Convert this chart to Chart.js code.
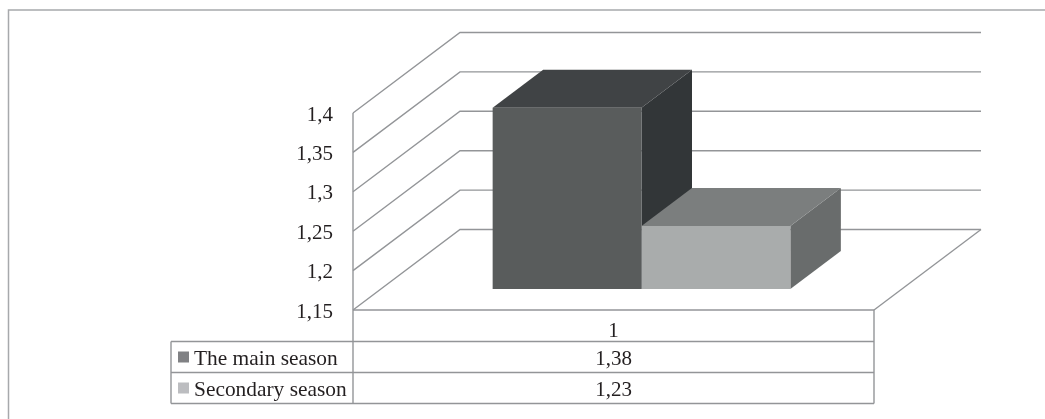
<!DOCTYPE html>
<html>
<head>
<meta charset="utf-8">
<style>
    html, body { margin: 0; padding: 0; background: #fff; overflow: hidden; }
    canvas { display: block; }
</style>
<script src="https://cdn.jsdelivr.net/npm/chart.js@4/dist/chart.umd.min.js"></script>
</head>
<body>
<canvas id="myChart" width="1045" height="419"></canvas>
<script>
const categories = ['1'];
const seriesNames = ['The main season', 'Secondary season'];
const mainSeason = [1.38];
const secondarySeason = [1.23];
const tickValues = [1.15, 1.2, 1.25, 1.3, 1.35, 1.4];

const frontColors = ['#595c5c', '#a9acac'];
const topColors = ['#404345', '#7b7e7e'];
const sideColors = ['#323638', '#696c6c'];
const swatchColors = ['#808184', '#bcbdc0'];

const lineColor = '#939598';
const textColor = '#231f20';
const fontFamily = '"Liberation Serif", "Times New Roman", serif';

// oblique projection of the floor and of the bars standing on it
const floorDx = 107;
const floorDy = 80.5;
const barShiftDx = 28;
const barShiftDy = 21;
const barDepthDx = 50.5;
const barDepthDy = 38;

const rowLines = [341.5, 372.5, 403.5];
const tableLeft = 171;

function comma(value) {
    return String(+value.toFixed(2)).replace('.', ',');
}

function segment(ctx, x1, y1, x2, y2) {
    ctx.beginPath();
    ctx.moveTo(x1, y1);
    ctx.lineTo(x2, y2);
    ctx.stroke();
}

function face(ctx, points, color) {
    ctx.fillStyle = color;
    ctx.beginPath();
    ctx.moveTo(points[0][0], points[0][1]);
    for(let i = 1; i < points.length; i++) {
        ctx.lineTo(points[i][0], points[i][1]);
    }
    ctx.closePath();
    ctx.fill();
}

const perspectivePlugin = {
    id: 'perspective',
    beforeDatasetsDraw(chart) {
        const ctx = chart.ctx;
        const area = chart.chartArea;
        const yScale = chart.scales.y;

        // outer frame, left and top edges only
        ctx.save();
        ctx.strokeStyle = '#a7a9ac';
        ctx.lineWidth = 1.5;
        ctx.beginPath();
        ctx.moveTo(8.5, 419);
        ctx.lineTo(8.5, 10);
        ctx.lineTo(1045, 10);
        ctx.stroke();

        // gridlines run up the side wall and across the back wall
        ctx.strokeStyle = lineColor;
        ctx.lineWidth = 1.4;
        for(let i = 0; i < tickValues.length; i++) {
            const y = yScale.getPixelForValue(tickValues[i]);
            ctx.beginPath();
            ctx.moveTo(area.left, y);
            ctx.lineTo(area.left + floorDx, y - floorDy);
            ctx.lineTo(area.right + floorDx, y - floorDy);
            ctx.stroke();
        }

        // floor edges
        segment(ctx, area.left, area.bottom, area.right, area.bottom);
        segment(ctx, area.right, area.bottom, area.right + floorDx, area.bottom - floorDy);
        segment(ctx, area.left, area.top, area.left, area.bottom);
        ctx.restore();

        // bar sides and tops, first series first so the second overlaps it
        ctx.save();
        ctx.translate(barShiftDx, -barShiftDy);
        for(let d = 0; d < chart.data.datasets.length; d++) {
            const bar = chart.getDatasetMeta(d).data[0];
            const left = bar.x - bar.width / 2;
            const right = bar.x + bar.width / 2;
            face(ctx, [
                [right, bar.y],
                [right + barDepthDx, bar.y - barDepthDy],
                [right + barDepthDx, bar.base - barDepthDy],
                [right, bar.base]
            ], sideColors[d]);
            face(ctx, [
                [left, bar.y],
                [left + barDepthDx, bar.y - barDepthDy],
                [right + barDepthDx, bar.y - barDepthDy],
                [right, bar.y]
            ], topColors[d]);
        }
        ctx.restore();

        // the front faces are the chart's own bars, pushed back onto the floor
        ctx.save();
        ctx.translate(barShiftDx, -barShiftDy);
    },
    afterDatasetsDraw(chart) {
        const ctx = chart.ctx;
        const area = chart.chartArea;
        ctx.restore();

        // data table under the floor
        ctx.save();
        ctx.strokeStyle = lineColor;
        ctx.lineWidth = 1.4;
        segment(ctx, area.left, area.bottom, area.left, rowLines[2]);
        segment(ctx, area.right, area.bottom, area.right, rowLines[2]);
        segment(ctx, tableLeft, rowLines[0], tableLeft, rowLines[2]);
        for(let i = 0; i < rowLines.length; i++) {
            segment(ctx, tableLeft, rowLines[i], area.right, rowLines[i]);
        }

        const middle = (area.left + area.right) / 2;
        ctx.fillStyle = textColor;
        ctx.textBaseline = 'alphabetic';
        ctx.font = '21px ' + fontFamily;
        ctx.textAlign = 'center';
        ctx.fillText(categories[0], middle, 337);

        for(let d = 0; d < seriesNames.length; d++) {
            const baseline = rowLines[d] + 23.5;
            ctx.fillStyle = swatchColors[d];
            ctx.fillRect(178, rowLines[d] + 10, 11, 11);
            ctx.fillStyle = textColor;
            ctx.font = '21.4px ' + fontFamily;
            ctx.textAlign = 'left';
            ctx.fillText(seriesNames[d], 194, baseline);
            ctx.font = '21px ' + fontFamily;
            ctx.textAlign = 'center';
            ctx.fillText(comma(chart.data.datasets[d].data[0]), middle, baseline);
        }
        ctx.restore();
    }
};

const ctx = document.getElementById('myChart').getContext('2d');

const chart = new Chart(ctx, {
    type: 'bar',
    data: {
        labels: categories,
        datasets: [
            {
                label: seriesNames[0],
                data: mainSeason,
                backgroundColor: frontColors[0],
                base: tickValues[0],
                categoryPercentage: 0.5714,
                barPercentage: 1,
                clip: false
            },
            {
                label: seriesNames[1],
                data: secondarySeason,
                backgroundColor: frontColors[1],
                base: tickValues[0],
                categoryPercentage: 0.5714,
                barPercentage: 1,
                clip: false
            }
        ]
    },
    options: {
        responsive: false,
        animation: false,
        layout: {
            padding: { left: 0, right: 171, top: 113, bottom: 109 }
        },
        plugins: {
            legend: { display: false },
            tooltip: { enabled: false }
        },
        scales: {
            x: { display: false },
            y: {
                min: tickValues[0],
                max: tickValues[tickValues.length - 1],
                afterFit(scale) {
                    scale.width = 353;
                },
                afterBuildTicks(scale) {
                    scale.ticks = tickValues.map(v => ({ value: v }));
                },
                grid: { display: false, drawTicks: false },
                border: { display: false },
                ticks: {
                    padding: 20,
                    labelOffset: 2,
                    color: textColor,
                    font: { family: fontFamily, size: 21 },
                    callback: value => comma(value)
                }
            }
        }
    },
    plugins: [perspectivePlugin]
});
</script>
</body>
</html>
